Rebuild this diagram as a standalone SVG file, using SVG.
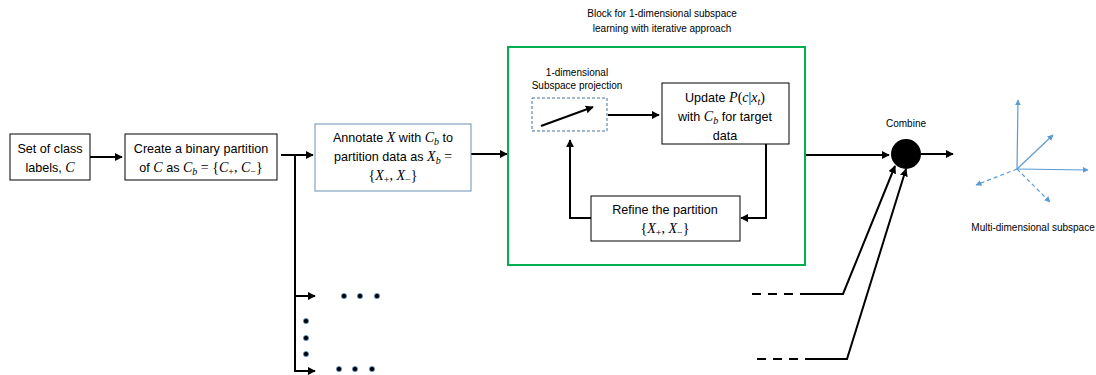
<svg xmlns="http://www.w3.org/2000/svg" width="1096" height="375" viewBox="0 0 1096 375">
<defs>
<marker id="ah" viewBox="0 0 10 10" refX="9" refY="5" markerWidth="4" markerHeight="4" orient="auto"><path d="M0,0 L10,5 L0,10 Z" fill="#000"/></marker>
<marker id="ahb" viewBox="0 0 10 10" refX="9" refY="5" markerWidth="5" markerHeight="5" orient="auto"><path d="M0,0 L10,5 L0,10 Z" fill="#5b9bd5"/></marker>
<style>
.t{font-family:"Liberation Sans",Arial,sans-serif;font-size:12.6px;fill:#000;text-anchor:middle}
.s{font-family:"Liberation Sans",Arial,sans-serif;font-size:10px;fill:#000;text-anchor:middle}
.m{font-family:"Liberation Serif","DejaVu Serif",serif;font-style:italic;font-size:14px}
.r{font-family:"Liberation Serif","DejaVu Serif",serif;font-style:normal;font-size:14px}
.sub{font-size:10px}
.box{fill:#fff;stroke:#000;stroke-width:1}
.ln{fill:none;stroke:#000;stroke-width:2}
.bl{fill:none;stroke:#5b9bd5;stroke-width:1.2}
.dot{fill:#000;stroke:#5b9bd5;stroke-width:0.8}
</style>
</defs>
<rect width="1096" height="375" fill="#fff"/>

<g id="connectors">
<line class="ln" x1="90" y1="157" x2="122" y2="157" marker-end="url(#ah)"/>
<line class="ln" x1="281" y1="155" x2="313" y2="155" marker-end="url(#ah)"/>
<polyline class="ln" points="295,155 295,371 315,371" marker-end="url(#ah)"/>
<line class="ln" x1="295" y1="296" x2="315" y2="296" marker-end="url(#ah)"/>
<line class="ln" x1="471" y1="154" x2="507" y2="154" marker-end="url(#ah)"/>
<line class="ln" x1="608" y1="115" x2="659" y2="115" marker-end="url(#ah)"/>
<polyline class="ln" points="766,144 766,218 741,218" marker-end="url(#ah)"/>
<polyline class="ln" points="591,218 570,218 570,140" marker-end="url(#ah)"/>
<line class="ln" x1="806" y1="155" x2="889" y2="155" marker-end="url(#ah)"/>
<line class="ln" x1="921" y1="154" x2="953" y2="154" marker-end="url(#ah)"/>
<line class="ln" x1="752" y1="294" x2="807" y2="294" stroke-dasharray="9,7"/>
<polyline class="ln" points="807,294 843,294 895,166" marker-end="url(#ah)"/>
<line class="ln" x1="757" y1="359" x2="811" y2="359" stroke-dasharray="9,7"/>
<polyline class="ln" points="811,359 847,359 906,169" marker-end="url(#ah)"/>
</g>

<g id="dots">
<circle class="dot" cx="344" cy="296" r="2.6"/><circle class="dot" cx="360" cy="296" r="2.6"/><circle class="dot" cx="377" cy="296" r="2.6"/>
<circle class="dot" cx="306" cy="321" r="2.6"/><circle class="dot" cx="306" cy="338" r="2.6"/><circle class="dot" cx="306" cy="354" r="2.6"/>
<circle class="dot" cx="339" cy="369" r="2.6"/><circle class="dot" cx="355" cy="369" r="2.6"/><circle class="dot" cx="372" cy="369" r="2.6"/>
</g>

<g id="set-of-labels">
<rect class="box" x="10" y="134" width="80" height="46"/>
<text class="t" x="50" y="153">Set of class</text>
<text class="t" x="50" y="172">labels, <tspan class="m">C</tspan></text>
</g>

<g id="binary-partition">
<rect class="box" x="125" y="134" width="152" height="46"/>
<text class="t" x="201" y="153">Create a binary partition</text>
<text class="t" x="201" y="172">of <tspan class="m">C</tspan> as <tspan class="m">C</tspan><tspan class="m sub" dy="3">b</tspan><tspan class="r" dy="-3"> = {</tspan><tspan class="m">C</tspan><tspan class="r sub" dy="3">+</tspan><tspan class="r" dy="-3">, </tspan><tspan class="m">C</tspan><tspan class="r sub" dy="3">−</tspan><tspan class="r" dy="-3">}</tspan></text>
</g>

<g id="annotate">
<rect x="315" y="124" width="156" height="67" fill="#fff" stroke="#6d8fb3" stroke-width="1"/>
<text class="t" x="393" y="142">Annotate <tspan class="m">X</tspan> with <tspan class="m">C</tspan><tspan class="m sub" dy="3">b</tspan><tspan dy="-3"> to</tspan></text>
<text class="t" x="393" y="161">partition data as <tspan class="m">X</tspan><tspan class="m sub" dy="3">b</tspan><tspan class="r" dy="-3"> =</tspan></text>
<text class="t" x="393" y="180"><tspan class="r">{</tspan><tspan class="m">X</tspan><tspan class="r sub" dy="3">+</tspan><tspan class="r" dy="-3">, </tspan><tspan class="m">X</tspan><tspan class="r sub" dy="3">−</tspan><tspan class="r" dy="-3">}</tspan></text>
</g>

<g id="block">
<text class="s" x="662" y="17" font-size="10.5">Block for 1-dimensional subspace</text>
<text class="s" x="662" y="32" font-size="10.5">learning with iterative approach</text>
<rect x="508" y="47" width="297" height="218" fill="none" stroke="#00b050" stroke-width="2"/>
</g>

<g id="projection">
<text class="s" x="577" y="76" font-size="9.3">1-dimensional</text>
<text class="s" x="577" y="89" font-size="9.3">Subspace projection</text>
<rect x="532" y="98" width="75" height="33" fill="none" stroke="#44719b" stroke-width="1" stroke-dasharray="3,2"/>
<line class="ln" x1="541" y1="126" x2="593" y2="107" marker-end="url(#ah)"/>
</g>

<g id="update">
<rect class="box" x="662" y="83" width="127" height="61"/>
<text class="t" x="725" y="102">Update <tspan class="m">P</tspan><tspan class="r">(</tspan><tspan class="m">c</tspan><tspan class="r">|</tspan><tspan class="m">x</tspan><tspan class="m sub" dy="3">t</tspan><tspan class="r" dy="-3">)</tspan></text>
<text class="t" x="725" y="121">with <tspan class="m">C</tspan><tspan class="m sub" dy="3">b</tspan><tspan dy="-3"> for target</tspan></text>
<text class="t" x="725" y="140">data</text>
</g>

<g id="refine">
<rect class="box" x="591" y="196" width="149" height="45"/>
<text class="t" x="665" y="214">Refine the partition</text>
<text class="t" x="665" y="233"><tspan class="r">{</tspan><tspan class="m">X</tspan><tspan class="r sub" dy="3">+</tspan><tspan class="r" dy="-3">, </tspan><tspan class="m">X</tspan><tspan class="r sub" dy="3">−</tspan><tspan class="r" dy="-3">}</tspan></text>
</g>

<g id="combine">
<text class="s" x="906" y="127">Combine</text>
<circle cx="906" cy="154" r="15" fill="#000"/>
</g>

<g id="multi-subspace">
<line class="bl" x1="1017" y1="169" x2="1018" y2="100" marker-end="url(#ahb)"/>
<line class="bl" x1="1017" y1="169" x2="1053" y2="135" marker-end="url(#ahb)"/>
<line class="bl" x1="1017" y1="169" x2="1088" y2="170" marker-end="url(#ahb)"/>
<line class="bl" x1="1017" y1="169" x2="976" y2="185" stroke-dasharray="4,3" marker-end="url(#ahb)"/>
<line class="bl" x1="1017" y1="169" x2="1050" y2="202" stroke-dasharray="4,3" marker-end="url(#ahb)"/>
<text class="s" x="1033" y="231">Multi-dimensional subspace</text>
</g>
</svg>
